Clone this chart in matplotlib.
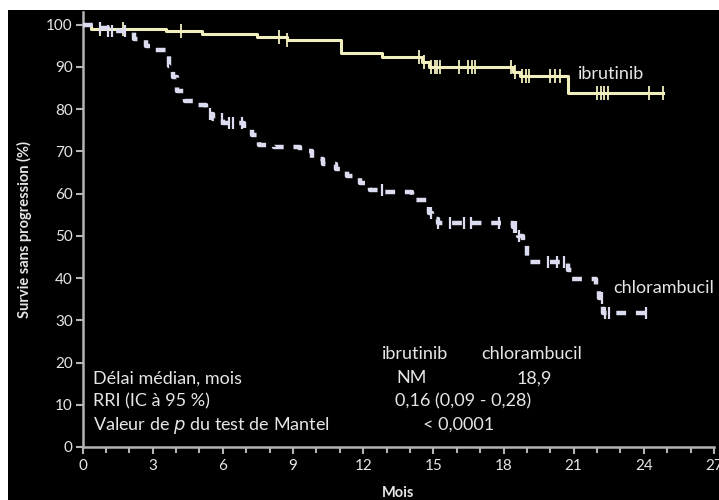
import matplotlib.pyplot as plt
from matplotlib.patches import Rectangle
from matplotlib.ticker import MultipleLocator

# courbes de Kaplan-Meier (mois, % sans progression)
ibru_t = [0, 0.35, 3.55, 5.1, 7.45, 8.75, 11.05, 12.8, 14.5, 14.8, 18.4, 18.7, 20.75, 24.8]
ibru_s = [100, 99.0, 98.4, 97.8, 97.0, 96.4, 93.2, 92.4, 91.2, 89.9, 88.8, 87.8, 83.8, 83.8]
ibru_cens = [0.75, 1.75, 4.2, 8.4, 8.75, 14.4, 14.6, 14.9, 15.05, 15.15, 15.3, 16.1, 16.5,
             16.65, 16.8, 18.3, 18.5, 18.8, 18.95, 19.1, 20.0, 20.2, 20.4, 22.0, 22.15,
             22.3, 22.45, 24.2, 24.8]

chlo_t = [0, 0.6, 1.1, 2.2, 2.7, 3.1, 3.55, 3.7, 3.85, 4.05, 4.4, 4.95, 5.3, 5.6, 6.0,
          6.9, 7.25, 7.55, 8.2, 9.3, 9.8, 10.3, 10.85, 11.3, 11.85, 12.3, 12.9, 14.1,
          14.8, 14.95, 15.2, 18.4, 18.6, 18.85, 19.0, 20.75, 20.95, 21.95, 22.1, 22.25, 24.1]
chlo_s = [100, 99.2, 98.4, 96.6, 95.0, 93.9, 92.7, 90.3, 87.5, 84.4, 82.0, 80.9, 78.9,
          77.7, 76.6, 75.4, 73.8, 71.6, 71.0, 70.0, 68.3, 66.9, 65.9, 64.1, 62.5, 60.8,
          60.3, 58.4, 55.5, 54.0, 53.0, 52.0, 50.0, 48.2, 43.8, 41.9, 39.7, 37.8, 35.2,
          31.7, 31.7]
chlo_cens = [0.75, 1.1, 1.25, 1.8, 5.45, 5.95, 6.25, 6.45, 6.8, 12.8, 14.9, 15.2, 15.7,
             16.3, 16.6, 17.8, 18.45, 18.55, 18.65, 19.9, 20.3, 20.6, 22.2, 22.35, 22.5, 24.1]

rows = ["Délai médian, mois", "RRI (IC à 95 %)", "Valeur de $\\it{p}$ du test de Mantel"]
col_heads = ["ibrutinib", "chlorambucil"]
median_vals = ["NM", "18,9"]
hr_text = "0,16 (0,09 - 0,28)"
p_text = "< 0,0001"

IBRU_COL = "#f2efbe"
CHLO_COL = "#dcdcf0"
AX_COL = "#b4b4b4"
TXT_COL = "#e6e6e6"
FS = 13

plt.rcParams['font.family'] = ['Lato', 'DejaVu Sans']


def survie_at(ts, ss, t):
    v = ss[0]
    for ti, si in zip(ts, ss):
        if ti <= t:
            v = si
    return v


def main():
    fig = plt.figure(figsize=(7.19, 5.0), dpi=100, facecolor="white")
    fig.patches.append(Rectangle((8 / 719, 0), 1, 490 / 500, transform=fig.transFigure,
                                 facecolor="black", edgecolor="none", zorder=-10))
    ax = fig.add_axes([82.5 / 719, 53 / 500, (714 - 82.5) / 719, (488 - 53) / 500])
    ax.set_facecolor("black")
    ax.set_xlim(0, 27)
    ax.set_ylim(0, 103)

    ax.step(ibru_t, ibru_s, where="post", color=IBRU_COL, lw=2.2, zorder=3)
    ax.plot(ibru_cens, [survie_at(ibru_t, ibru_s, t) for t in ibru_cens], ls="none",
            marker="|", ms=10, mew=1.3, color=IBRU_COL, zorder=3)

    ax.step(chlo_t, chlo_s, where="post", color=CHLO_COL, lw=3.2, zorder=3,
            dashes=(2.2, 2.2), solid_capstyle="butt", dash_capstyle="butt")
    ax.plot(chlo_cens, [survie_at(chlo_t, chlo_s, t) for t in chlo_cens], ls="none",
            marker="|", ms=9, mew=1.6, color=CHLO_COL, zorder=3)

    for s in ["top", "right"]:
        ax.spines[s].set_visible(False)
    for s in ["left", "bottom"]:
        ax.spines[s].set_color(AX_COL)
        ax.spines[s].set_linewidth(1.8)

    ax.xaxis.set_major_locator(MultipleLocator(3))
    ax.xaxis.set_minor_locator(MultipleLocator(1))
    ax.set_yticks(range(0, 101, 10))
    ax.tick_params(axis="both", which="both", colors=AX_COL, width=1.5, labelcolor=TXT_COL,
                   labelsize=11)
    ax.tick_params(axis="both", which="major", length=5)
    ax.tick_params(axis="x", which="minor", length=4)
    ax.tick_params(axis="x", pad=4)
    ax.tick_params(axis="y", pad=2)

    ax.set_xlabel("Mois", color=TXT_COL, fontsize=10.5, fontweight="bold", labelpad=9)
    ax.set_ylabel("Survie sans progression (%)", color=TXT_COL, fontsize=10.5,
                  fontweight="bold", labelpad=10)

    ax.text(21.2, 88.4, "ibrutinib", color=TXT_COL, fontsize=FS, va="center")
    ax.text(22.7, 37.6, "chlorambucil", color=TXT_COL, fontsize=FS, va="center",
            clip_on=False)

    # tableau des résultats
    row_y = [16.3, 10.8, 5.2]
    for y, r in zip(row_y, rows):
        ax.text(0.45, y, r, color=TXT_COL, fontsize=FS, va="center")
    ax.text(14.2, 22.0, col_heads[0], color=TXT_COL, fontsize=FS, va="center", ha="center")
    ax.text(19.2, 22.0, col_heads[1], color=TXT_COL, fontsize=FS, va="center", ha="center")
    ax.text(14.05, row_y[0], median_vals[0], color=TXT_COL, fontsize=FS, va="center",
            ha="center")
    ax.text(19.3, row_y[0], median_vals[1], color=TXT_COL, fontsize=FS, va="center",
            ha="center")
    ax.text(16.25, row_y[1], hr_text, color=TXT_COL, fontsize=FS, va="center", ha="center")
    ax.text(16.1, row_y[2], p_text, color=TXT_COL, fontsize=FS, va="center", ha="center")

    fig.savefig("out.png", dpi=100, facecolor=fig.get_facecolor())


if __name__ == "__main__":
    main()
